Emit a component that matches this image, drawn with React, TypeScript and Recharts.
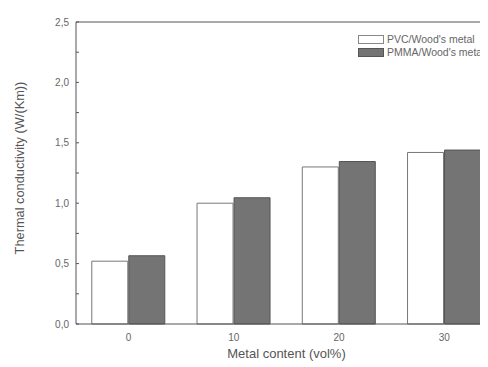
import React from 'react';
import { BarChart, Bar, XAxis, YAxis, Legend, ReferenceLine } from 'recharts';

const categories = ['0', '10', '20', '30'];
const pvcValues = [0.52, 1.0, 1.3, 1.42];
const pmmaValues = [0.565, 1.045, 1.345, 1.44];
const yTicks = [0, 0.25, 0.5, 0.75, 1.0, 1.25, 1.5, 1.75, 2.0, 2.25, 2.5];
const seriesNames = ["PVC/Wood's metal", "PMMA/Wood's metal"];

const data = categories.map((c, i) => ({ cat: c, pvc: pvcValues[i], pmma: pmmaValues[i] }));

const FONT = '"Liberation Sans", Arial, sans-serif';
const TEXT = '#666';

const fmtY = (v: number) => (Math.abs((v * 2) % 1) < 1e-6 ? v.toFixed(1).replace('.', ',') : '');

const LegendContent = () => (
  <div style={{ fontFamily: FONT, fontSize: 10.5, color: TEXT, lineHeight: '13px', textAlign: 'left', whiteSpace: 'nowrap' }}>
    <div style={{ display: 'flex', alignItems: 'center' }}>
      <span style={{ display: 'inline-block', width: 24, height: 7, border: '1px solid #888', background: '#fff', marginRight: 3 }} />
      <span>{seriesNames[0]}</span>
    </div>
    <div style={{ display: 'flex', alignItems: 'center' }}>
      <span style={{ display: 'inline-block', width: 24, height: 7, border: '1px solid #555', background: '#747474', marginRight: 3 }} />
      <span>{seriesNames[1]}</span>
    </div>
  </div>
);

const YTitle = (props: any) => {
  const vb = props.viewBox || {};
  const cx = 11;
  const cy = vb.y + vb.height / 2 - 5;
  return (
    <text x={cx} y={cy} transform={`rotate(-90, ${cx}, ${cy})`} textAnchor="middle" dominantBaseline="central"
      style={{ fontFamily: FONT, fontSize: 12.8, fill: '#555' }}>
      Thermal conductivity (W/(Km))
    </text>
  );
};

const XTitle = (props: any) => {
  const vb = props.viewBox || {};
  const cx = vb.x + vb.width / 2;
  const cy = 345;
  return (
    <text x={cx} y={cy} textAnchor="middle" dominantBaseline="central"
      style={{ fontFamily: FONT, fontSize: 13, fill: '#555' }}>
      Metal content (vol%)
    </text>
  );
};

export default function App() {
  return (
    <div style={{ width: 480, height: 359, overflow: 'hidden', position: 'relative' }}>
      <BarChart
        width={520}
        height={359}
        data={data}
        margin={{ top: 14, right: 31, left: 0, bottom: 0 }}
        barCategoryGap="15%"
        barGap={1}
      >
        <XAxis
          dataKey="cat"
          height={43}
          stroke="#555"
          tickLine={false}
          tickSize={6}
          tickMargin={4}
          tick={{ fontFamily: FONT, fontSize: 10, fill: TEXT }}
          label={<XTitle />}
        />
        <YAxis
          width={68}
          domain={[0, 2.5]}
          ticks={yTicks}
          interval={0}
          tickFormatter={fmtY}
          stroke="#555"
          tickSize={-3}
          tickMargin={10}
          tick={{ fontFamily: FONT, fontSize: 10, fill: TEXT }}
          label={<YTitle />}
        />
        <ReferenceLine y={2.5} stroke="#555" strokeWidth={1} />
        <Legend
          layout="horizontal"
          verticalAlign="middle"
          align="center"
          content={<LegendContent />}
          wrapperStyle={{ left: 350, top: 25, width: 'auto', height: 'auto' }}
        />
        <Bar dataKey="pvc" name={seriesNames[0]} fill="#ffffff" stroke="#777" strokeWidth={1} isAnimationActive={false} />
        <Bar dataKey="pmma" name={seriesNames[1]} fill="#747474" stroke="#555" strokeWidth={1} isAnimationActive={false} />
      </BarChart>
    </div>
  );
}
